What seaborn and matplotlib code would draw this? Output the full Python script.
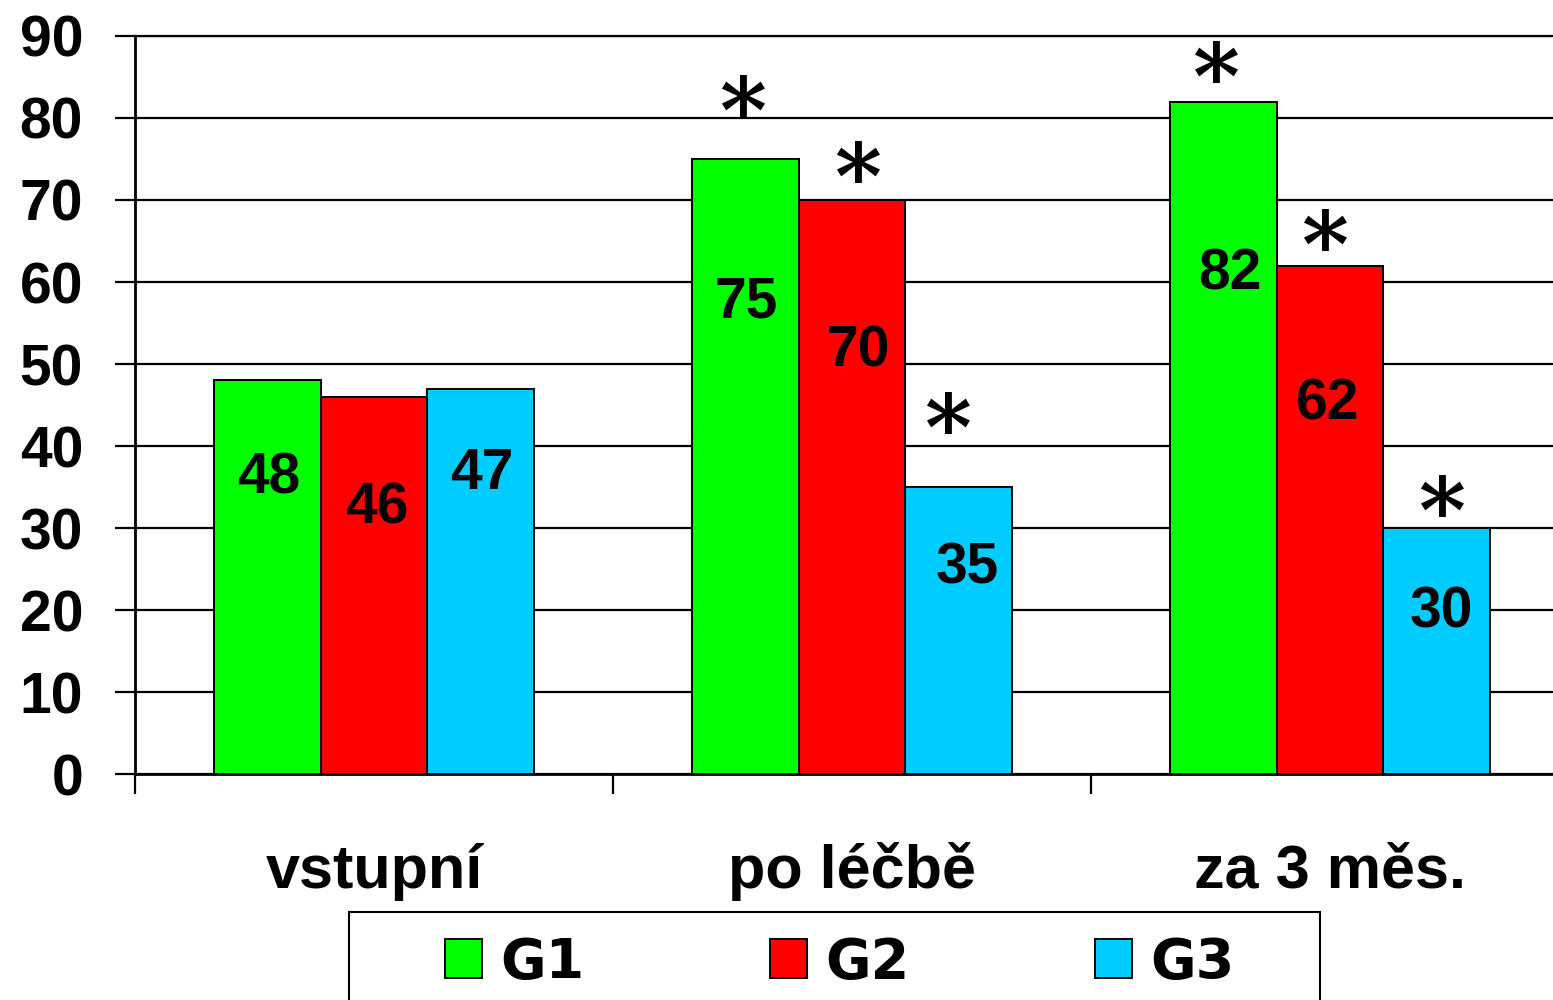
import matplotlib
matplotlib.use("Agg")
import matplotlib.pyplot as plt
import seaborn as sns
import pandas as pd
from matplotlib.patches import Patch, Rectangle
from matplotlib.textpath import TextPath
from matplotlib.font_manager import FontProperties

# ---------------- data ----------------
categories = ["vstupní", "po léčbě", "za 3 měs."]
groups = ["G1", "G2", "G3"]
g1_values = [48, 75, 82]
g2_values = [46, 70, 62]
g3_values = [47, 35, 30]
g1_significant = [False, True, True]
g2_significant = [False, True, True]
g3_significant = [False, True, True]
y_ticks = [0, 10, 20, 30, 40, 50, 60, 70, 80, 90]

values = {"G1": g1_values, "G2": g2_values, "G3": g3_values}
significant = {"G1": g1_significant, "G2": g2_significant, "G3": g3_significant}
colors = {"G1": "#00FF00", "G2": "#FF0000", "G3": "#00CCFF"}

# ---------------- layout (label / asterisk placement) ----------------
label_y = {"G1": [36.7, 58.2, 61.6], "G2": [33.0, 52.2, 45.7], "G3": [37.2, 25.7, 20.4]}
label_dx = {"G1": [1, 1, 6], "G2": [3, 6, -2], "G3": [1, 9, 5]}          # px
star_y = {"G1": [0, 82.7, 86.8], "G2": [0, 74.6, 66.3], "G3": [0, 44.0, 33.9]}
star_dx = {"G1": [0, -3, -8], "G2": [0, 6, -5], "G3": [0, -11, 5]}       # px
STAR_FONT = "DejaVu Serif"
STAR_WEIGHT = "bold"

rows = []
for g in groups:
    for c, v in zip(categories, values[g]):
        rows.append({"time": c, "group": g, "value": v})
df = pd.DataFrame(rows)

plt.rcParams["font.family"] = ["Liberation Sans", "DejaVu Sans"]
plt.rcParams["font.weight"] = "bold"

W, H = 1553, 1000
fig = plt.figure(figsize=(W / 100, H / 100), dpi=100)
ax = fig.add_axes([135 / W, 1 - 774 / H, 1434 / W, 738 / H])

sns.barplot(data=df, x="time", y="value", hue="group", order=categories,
            hue_order=groups, palette=colors, width=0.668, saturation=1,
            edgecolor="black", linewidth=1.4, legend=False, ax=ax)

ax.set_xlim(-0.5, 2.5)
ax.set_ylim(0, 90)
ax.set_xlabel("")
ax.set_ylabel("")
ax.set_yticks(y_ticks)
ax.set_axisbelow(True)
ax.yaxis.grid(True, color="black", linewidth=1.6)
ax.xaxis.grid(False)

for s in ["left", "bottom"]:
    ax.spines[s].set_linewidth(2.0)
    ax.spines[s].set_color("black")
ax.spines["top"].set_linewidth(1.6)
ax.spines["top"].set_color("black")
ax.spines["right"].set_visible(False)

ax.tick_params(axis="y", length=14.4, width=1.6, pad=23, labelsize=41, direction="out")
ax.set_xticks([-0.5, 0.5, 1.5, 2.5], minor=True)
ax.tick_params(axis="x", which="minor", length=14.4, width=1.6, direction="out")
ax.tick_params(axis="x", which="major", length=0, pad=82, labelsize=44)
for lbl in ax.get_xticklabels():
    lbl.set_verticalalignment("baseline")
    lbl.set_fontweight("bold")
for lbl in ax.get_yticklabels():
    lbl.set_fontweight("bold")

# value labels and significance asterisks
lab_fs = 41
star_prop = FontProperties(family=STAR_FONT, weight=STAR_WEIGHT)
tp = TextPath((0, 0), "*", size=1, prop=star_prop)
ext = tp.get_extents()
star_fs = 30.0 / ext.height
star_cy = (ext.y0 + ext.y1) / 2 * star_fs

for container, g in zip(ax.containers, groups):
    for bar in container:
        xc = bar.get_x() + bar.get_width() / 2
        i = int(round(xc))
        ax.annotate(str(values[g][i]), xy=(xc, label_y[g][i]),
                    xytext=(label_dx[g][i] * 0.72, -0.358 * lab_fs),
                    textcoords="offset points", ha="center", va="baseline",
                    fontsize=lab_fs, fontweight="bold", color="black")
        if significant[g][i]:
            ax.annotate("*", xy=(xc, star_y[g][i]),
                        xytext=(star_dx[g][i] * 0.72, -star_cy),
                        textcoords="offset points", ha="center", va="baseline",
                        fontsize=star_fs, family=STAR_FONT, fontweight=STAR_WEIGHT,
                        color="black", annotation_clip=False)

# legend
handles = [Patch(facecolor=colors[g], edgecolor="black", linewidth=1.4) for g in groups]
fig.legend(handles, groups, loc="center left", bbox_to_anchor=(445 / W, 1 - 963 / H),
           ncol=3, frameon=False, borderpad=0, borderaxespad=0,
           handlelength=0.667, handleheight=0.68, handletextpad=0.32,
           columnspacing=3.35,
           prop=FontProperties(family="DejaVu Sans", weight="bold", size=40))
fig.add_artist(Rectangle((349 / W, -0.02), (1320 - 349) / W, (1000 - 912) / H + 0.02,
                         transform=fig.transFigure, fill=False,
                         edgecolor="black", linewidth=1.5))

fig.savefig("out.png", dpi=100)
